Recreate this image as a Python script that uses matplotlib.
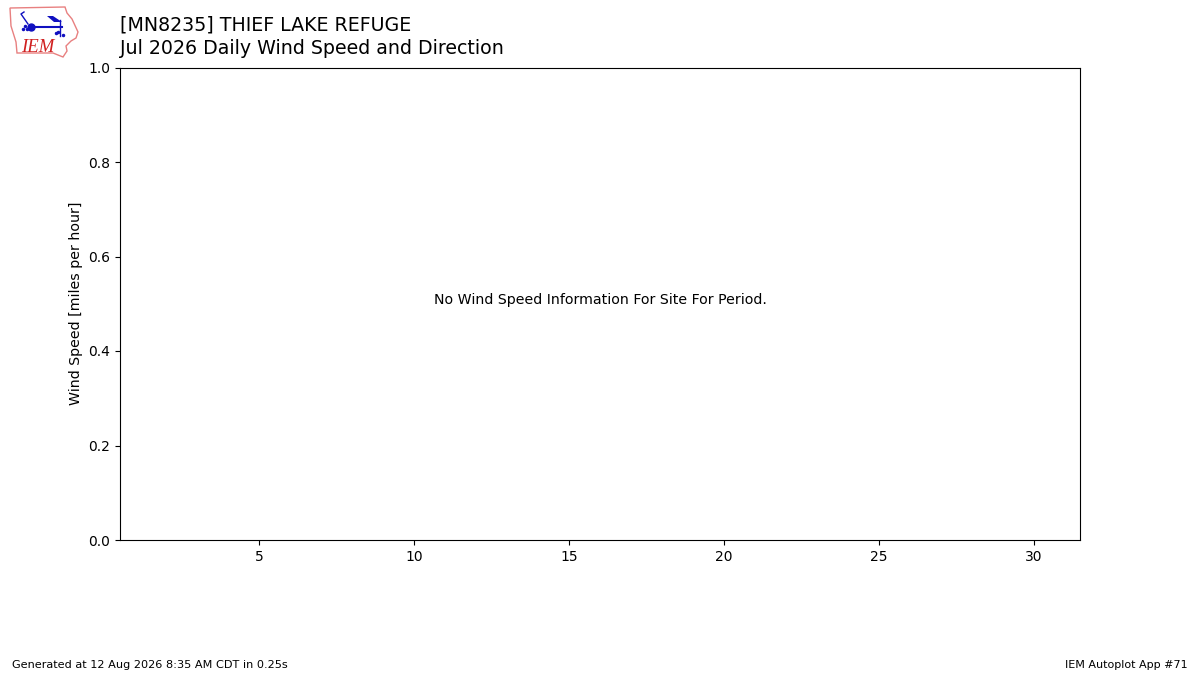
import matplotlib
matplotlib.use('Agg')
import matplotlib.pyplot as plt
from matplotlib.patches import Polygon

title_lines = ['[MN8235] THIEF LAKE REFUGE', 'Jul 2026 Daily Wind Speed and Direction']
message = 'No Wind Speed Information For Site For Period.'
ylabel = 'Wind Speed [miles per hour]'
footer_left = 'Generated at 12 Aug 2026 8:35 AM CDT in 0.25s'
footer_right = 'IEM Autoplot App #71'
xticks = [5, 10, 15, 20, 25, 30]
yticks = [0.0, 0.2, 0.4, 0.6, 0.8, 1.0]

fig = plt.figure(figsize=(12, 6.75), dpi=100)
ax = fig.add_axes([0.1, 0.2, 0.8, 0.7])
ax.set_xlim(0.5, 31.5)
ax.set_ylim(0, 1)
ax.set_xticks(xticks)
ax.set_yticks(yticks)
ax.set_ylabel(ylabel, fontsize=10.2)
ax.text(0.5, 0.5085, message, transform=ax.transAxes, ha='center', va='center', fontsize=10.15)

fig.text(0.1, 0.9545, title_lines[0], fontsize=13.7, ha='left', va='baseline')
fig.text(0.1, 0.9205, title_lines[1], fontsize=13.7, ha='left', va='baseline')
fig.text(0.01, 0.0104, footer_left, fontsize=8.15, ha='left', va='baseline')
fig.text(0.99, 0.0104, footer_right, fontsize=8, ha='right', va='baseline')

# logo, roughly drawn in pixel coords of the top left corner
logo = fig.add_axes([0, 0.91, 0.07, 0.09])
logo.set_xlim(0, 84)
logo.set_ylim(60.75, 0)
logo.axis('off')
logo.add_patch(Polygon([(10, 8), (65, 7), (67, 13), (72, 19), (78, 32), (76, 38), (71, 41), (66, 46),
                        (67, 51), (63, 57), (53, 53), (17, 53), (16, 42), (11, 26)],
                       closed=True, fc='white', ec='#e88080', lw=1))
logo.plot([31, 62], [27, 27], color='#1010c0', lw=1.5)
logo.plot([31], [27], 'o', color='#1010c0', ms=5)
logo.plot([60, 60], [20, 36], color='#1010c0', lw=1)
logo.add_patch(Polygon([(47, 16), (53, 16), (62, 22), (54, 22)], closed=True, fc='#1010c0', ec='none'))
logo.plot([28, 21, 24], [24, 14, 12], color='#1010c0', lw=1)
logo.plot([23, 25, 27], [29, 26, 29], ls='none', marker='o', color='#1010c0', ms=1.5)
logo.plot([56, 58, 63], [33, 32, 35], ls='none', marker='o', color='#1010c0', ms=1.5)
logo.text(21, 52, 'IEM', color='#d02020', fontsize=13.5, family='Liberation Serif', style='italic')

fig.savefig('out.png', dpi=100)
